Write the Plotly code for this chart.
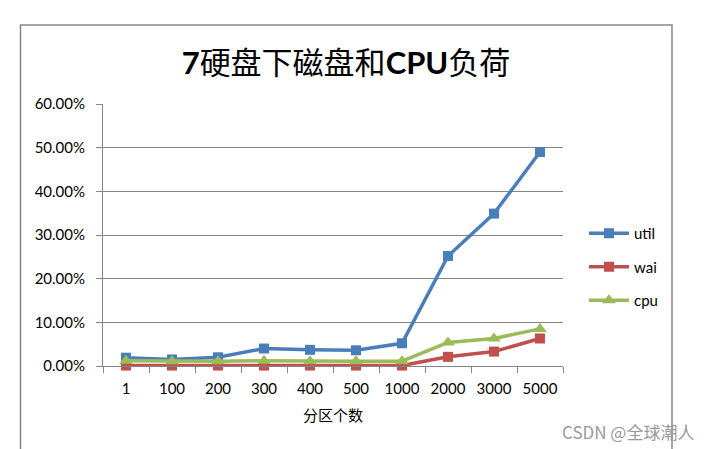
import plotly.graph_objects as go

categories = ["1", "100", "200", "300", "400", "500", "1000", "2000", "3000", "5000"]
util = [0.019, 0.015, 0.020, 0.040, 0.037, 0.036, 0.052, 0.252, 0.349, 0.490]
wai = [0.001, 0.001, 0.001, 0.001, 0.001, 0.001, 0.001, 0.021, 0.033, 0.063]
cpu = [0.012, 0.011, 0.011, 0.012, 0.011, 0.011, 0.011, 0.054, 0.063, 0.085]
y_ticks = [0, 0.1, 0.2, 0.3, 0.4, 0.5, 0.6]
y_tick_labels = ["0.00%", "10.00%", "20.00%", "30.00%", "40.00%", "50.00%", "60.00%"]

FONT = "Lato, Carlito, 'Noto Sans CJK SC', sans-serif"

fig = go.Figure()
series = [
    ("util", util, "#4A7EBB", "square", 10),
    ("wai", wai, "#C0504D", "square", 10),
    ("cpu", cpu, "#9BBB59", "triangle-up", 12),
]
for name, vals, color, sym, size in series:
    fig.add_trace(go.Scatter(
        x=categories, y=vals, name=name, legendgroup=name,
        mode="lines+markers",
        line=dict(color=color, width=3.5),
        marker=dict(symbol=sym, size=size, color=color),
        cliponaxis=False,
    ))

L, R, T, B = 103, 563, 104, 366
W, H = 710, 449

fig.update_layout(
    width=W, height=H,
    margin=dict(l=L, r=W - R, t=T, b=H - B),
    paper_bgcolor="white", plot_bgcolor="white",
    font=dict(family=FONT, size=14, color="black"),
    title=dict(
        text="<b>7</b>硬盘下磁盘和<b>CPU</b>负荷",
        font=dict(family="Lato, 'Noto Sans CJK SC', sans-serif", size=31, color="black"),
        x=346 / W, xanchor="center", xref="container",
        y=1 - 63 / H, yanchor="middle", yref="container",
    ),
    showlegend=True,
    legend=dict(
        x=(584 - L) / (R - L), xanchor="left",
        y=(B - 267) / (B - T), yanchor="middle",
        font=dict(size=15),
        tracegroupgap=11,
        itemwidth=40,
        bgcolor="rgba(0,0,0,0)",
    ),
    shapes=[dict(
        type="rect", xref="paper", yref="paper",
        x0=(20.5 - L) / (R - L), x1=(672 - L) / (R - L),
        y0=(B - 460) / (B - T), y1=(B - 25) / (B - T),
        line=dict(color="#868686", width=1.5),
        fillcolor="rgba(0,0,0,0)",
    )],
    annotations=[dict(
        text="CSDN @全球潮人", xref="paper", yref="paper",
        x=(696 - L) / (R - L), xanchor="right",
        y=(B - 431) / (B - T), yanchor="middle",
        showarrow=False,
        font=dict(family="'Noto Sans CJK SC', sans-serif", size=17, color="#9a9a9a"),
    )],
)

fig.update_xaxes(
    type="category", range=[-0.5, 9.5],
    showline=True, linecolor="#868686", linewidth=1,
    ticks="outside", tickson="boundaries", ticklen=6, tickcolor="#868686",
    ticklabelstandoff=9,
    showgrid=False,
    tickfont=dict(size=15),
    title=dict(text="分区个数", font=dict(family="'Noto Sans CJK SC', sans-serif", size=15), standoff=14),
)
fig.update_yaxes(
    range=[0, 0.6],
    tickmode="array", tickvals=y_ticks, ticktext=y_tick_labels,
    showline=True, linecolor="#868686", linewidth=1,
    ticks="outside", ticklen=6, tickcolor="#868686",
    ticklabelstandoff=8,
    showgrid=True, gridcolor="#868686", gridwidth=1,
    zeroline=False,
    tickfont=dict(size=15),
)

fig.write_html("out.html")
